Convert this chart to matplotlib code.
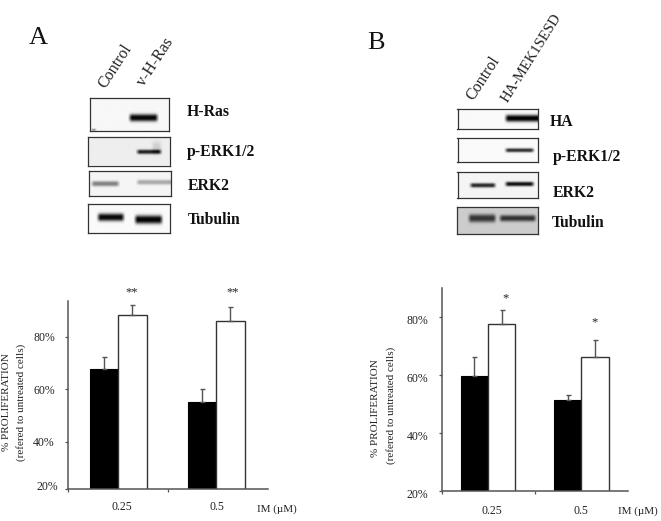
import numpy as np
import matplotlib
matplotlib.use("Agg")
import matplotlib.pyplot as plt
from matplotlib.transforms import ScaledTranslation

W, H = 661, 521

groupes = ["0.25", "0.5"]

noir_a = [67.7, 55.0]
blanc_a = [88.5, 86.2]
err_noir_a = [4.6, 5.3]
err_blanc_a = [3.5, 5.3]
etoiles_a = ["**", "**"]

noir_b = [59.5, 51.3]
blanc_b = [77.5, 66.2]
err_noir_b = [6.5, 1.6]
err_blanc_b = [4.8, 5.8]
etoiles_b = ["*", "*"]

graisse = {"family": "Liberation Serif", "weight": "bold", "color": "#111111"}
serif = {"family": "Liberation Serif", "color": "#222222"}

plt.rcParams["font.family"] = "Liberation Serif"
fig = plt.figure(figsize=(W / 100, H / 100), dpi=100)


def txt(x, y, s, **kw):
    kw.setdefault("ha", "center")
    kw.setdefault("va", "center")
    fig.text(x / W, 1 - y / H, s, **kw)


def boite(x0, x1, y0, y1):
    return fig.add_axes([x0 / W, 1 - y1 / H, (x1 - x0) / W, (y1 - y0) / H])


def blot(x0, x1, y0, y1, fond, bandes):
    # bandes : (debut, fin, centre y, epaisseur, intensite)
    ax = boite(x0, x1, y0, y1)
    xx, yy = np.meshgrid(np.arange(x0, x1, 0.5), np.arange(y0, y1, 0.5))
    img = np.full(xx.shape, float(fond))
    for a, b, yc, s, d in bandes:
        fx = np.clip((xx - a) / 4, 0, 1) * np.clip((b - xx) / 4, 0, 1)
        img -= d * fx * np.exp(-np.abs((yy - yc) / s) ** 2.5)
    ax.imshow(np.clip(img, 0, 1), cmap="gray", vmin=0, vmax=1, aspect="auto",
              extent=(x0, x1, y1, y0), interpolation="bilinear")
    ax.set_xticks([])
    ax.set_yticks([])
    for s in ax.spines.values():
        s.set_linewidth(0.9)
        s.set_color("#333333")


def histo(x0, x1, y0, y1, ylim, noir, blanc, err_n, err_b, centres, larg,
          etoiles, y_etoiles, x_etoiles, dy_labels, dy_bas, pad_bas):
    ax = boite(x0, x1, y0, y1)
    ax.patch.set_alpha(0)
    c = np.array(centres)
    ax.bar(c - larg / 2, noir, larg, bottom=0, color="black", edgecolor="black", lw=0.8)
    ax.bar(c + larg / 2, blanc, larg, bottom=0, color="white", edgecolor="#333333", lw=1.0)
    ax.errorbar(c - larg / 2, noir, yerr=[[0, 0], err_n], fmt="none", ecolor="#555555",
                elinewidth=1, capsize=1.8, capthick=1)
    ax.errorbar(c + larg / 2, blanc, yerr=[[0, 0], err_b], fmt="none", ecolor="#555555",
                elinewidth=1, capsize=1.8, capthick=1)
    ax.set_xlim(0, 2)
    ax.set_ylim(*ylim)
    ax.set_xticks([0, 1])
    ax.set_xticklabels([])
    ax.set_yticks([ylim[0], 40, 60, 80])
    ax.set_yticklabels(["20%", "40%", "60%", "80%"], fontsize=8.5, color="#222222")
    ax.tick_params(length=2.5, width=0.9, color="#555555")
    ax.tick_params(axis="y", pad=7)
    for i, lab in enumerate(ax.get_yticklabels()):
        dy = dy_bas if i == 0 else dy_labels
        dx = pad_bas if i == 0 else 0
        lab.set_transform(lab.get_transform() + ScaledTranslation(dx / 100, -dy / 100, fig.dpi_scale_trans))
    for s in ["top", "right"]:
        ax.spines[s].set_visible(False)
    for s in ["left", "bottom"]:
        ax.spines[s].set_color("#555555")
        ax.spines[s].set_linewidth(1.1)
    for xe, ye, e in zip(x_etoiles, y_etoiles, etoiles):
        ax.text(xe, ye, e, ha="center", va="center", fontsize=9, color="#222222", clip_on=False)
    return ax


# panneau A
txt(38, 38, "A", fontsize=19, color="#111111")
txt(115, 66, "Control", fontsize=11.5, rotation=57, **serif)
txt(155, 62, "v-H-Ras", fontsize=11.5, rotation=57, **serif)
blot(89.5, 169, 97.5, 131, 0.97, [(127, 158, 117.7, 3.6, 0.95), (90, 96, 129.5, 1.0, 0.8)])
blot(88, 169.5, 137, 165.5, 0.93, [(135, 162, 152.3, 2.2, 0.8), (150, 162, 148, 6, 0.12)])
blot(89, 170.5, 170.5, 196, 0.96, [(90, 120, 183.7, 2.6, 0.45), (135, 174, 182.2, 2.4, 0.3)])
blot(88, 169.5, 204, 233, 0.98, [(96, 125, 217, 3.8, 0.95), (133, 163, 219.3, 4.2, 0.98)])
txt(187, 112, "H-Ras", fontsize=11.3, ha="left", **graisse)
txt(187, 152, "p-ERK1/2", fontsize=11.3, ha="left", **graisse)
txt(188, 186, "ERK2", fontsize=11.3, ha="left", **graisse)
txt(188, 220, "Tubulin", fontsize=11.3, ha="left", **graisse)

# panneau B
txt(376, 43, "B", fontsize=19, color="#111111")
txt(483, 78, "Control", fontsize=11.5, rotation=57, **serif)
txt(532, 58, "HA-MEK1SESD", fontsize=10.5, rotation=58, **serif)
blot(457.5, 538, 108.5, 129, 0.98, [(503, 544, 118.3, 3.4, 0.98)])
blot(457.5, 538, 138, 162, 0.98, [(503, 534, 150, 2.0, 0.8)])
blot(457.5, 538, 171.5, 198, 0.96, [(468, 496, 185.3, 2.2, 0.8), (503, 534, 184, 2.2, 0.9)])
blot(457, 538, 207, 234, 0.80, [(467, 497, 218, 4.0, 0.6), (498, 537, 218, 3.2, 0.6)])
txt(549.5, 122, "HA", fontsize=11.3, ha="left", **graisse)
txt(552.5, 157, "p-ERK1/2", fontsize=11.3, ha="left", **graisse)
txt(553, 193, "ERK2", fontsize=11.3, ha="left", **graisse)
txt(551.5, 223, "Tubulin", fontsize=11.3, ha="left", **graisse)

# histogrammes
histo(68, 268, 301, 489, (22, 93.7), noir_a, blanc_a, err_noir_a, err_blanc_a,
      [0.5, 1.48], 0.285, etoiles_a, [97, 97], [0.64, 1.65], 0, -4, 3)
histo(441.5, 627.5, 287.5, 490.5, (20, 90), noir_b, blanc_b, err_noir_b, err_blanc_b,
      [0.5, 1.505], 0.295, etoiles_b, [86.4, 77.9], [0.69, 1.64], 3, 3, 0)

txt(7, 402, "% PROLIFERATION", fontsize=8, rotation=90, **serif)
txt(21.5, 402, "(refered to untreated cells)", fontsize=8, rotation=90, **serif)
txt(375.5, 408, "% PROLIFERATION", fontsize=8, rotation=90, **serif)
txt(391, 405, "(refered to untreated cells)", fontsize=8, rotation=90, **serif)

for x, g in zip([122, 216.5], groupes):
    txt(x, 507, g, fontsize=8.5, **serif)
for x, g in zip([492, 581], groupes):
    txt(x, 511, g, fontsize=8.5, **serif)
txt(277, 509, "IM (µM)", fontsize=8, **serif)
txt(638, 511, "IM (µM)", fontsize=8, **serif)

fig.savefig("out.png", dpi=100)
